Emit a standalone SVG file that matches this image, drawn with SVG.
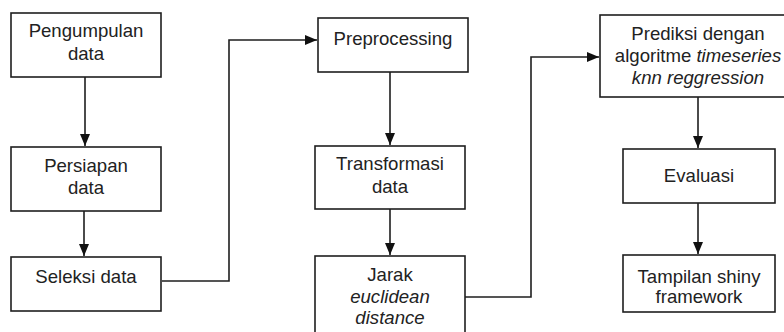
<svg xmlns="http://www.w3.org/2000/svg" width="784" height="332" viewBox="0 0 784 332">
<defs>
<style>
.box{fill:#fff;stroke:#1e1e1e;stroke-width:1.6}
.t{font-family:"Liberation Sans",Arial,sans-serif;font-size:18.6px;fill:#222;text-anchor:middle}
.i{font-style:italic}
.c{fill:none;stroke:#1e1e1e;stroke-width:1.6}
</style>
<marker id="ah" markerUnits="userSpaceOnUse" markerWidth="12" markerHeight="12" refX="12" refY="5" orient="auto" viewBox="0 0 12 10">
<path d="M0,0 L12,5 L0,10 Z" fill="#111"/>
</marker>
</defs>
<rect width="784" height="332" fill="#fff"/>
<g id="connectors">
<line class="c" x1="85" y1="77" x2="85" y2="146" marker-end="url(#ah)"/>
<line class="c" x1="84" y1="211" x2="84" y2="256" marker-end="url(#ah)"/>
<polyline class="c" points="162,281 229,281 229,40 317,40" marker-end="url(#ah)"/>
<line class="c" x1="390" y1="72" x2="390" y2="145" marker-end="url(#ah)"/>
<line class="c" x1="390" y1="209" x2="390" y2="255" marker-end="url(#ah)"/>
<polyline class="c" points="465,297 531,297 531,57 599,57" marker-end="url(#ah)"/>
<line class="c" x1="698" y1="97" x2="698" y2="148" marker-end="url(#ah)"/>
<line class="c" x1="698" y1="203" x2="698" y2="254" marker-end="url(#ah)"/>
</g>
<g id="pengumpulan">
<rect class="box" x="11" y="13" width="150" height="64"/>
<text class="t" x="86" y="37">Pengumpulan</text>
<text class="t" x="86" y="60">data</text>
</g>
<g id="persiapan">
<rect class="box" x="11" y="147" width="150" height="64"/>
<text class="t" x="86" y="172">Persiapan</text>
<text class="t" x="86" y="194">data</text>
</g>
<g id="seleksi">
<rect class="box" x="11" y="257" width="150" height="54"/>
<text class="t" x="86" y="283">Seleksi data</text>
</g>
<g id="preprocessing">
<rect class="box" x="318" y="18" width="150" height="54"/>
<text class="t" x="393" y="45">Preprocessing</text>
</g>
<g id="transformasi">
<rect class="box" x="315" y="146" width="150" height="63"/>
<text class="t" x="390" y="170">Transformasi</text>
<text class="t" x="390" y="193">data</text>
</g>
<g id="jarak">
<rect class="box" x="315" y="256" width="150" height="90"/>
<text class="t" x="390" y="281">Jarak</text>
<text class="t i" x="390" y="303">euclidean</text>
<text class="t i" x="390" y="324">distance</text>
</g>
<g id="prediksi">
<rect class="box" x="600" y="15" width="200" height="82"/>
<text class="t" x="698" y="40">Prediksi dengan</text>
<text class="t" x="698" y="62">algoritme <tspan class="i">timeseries</tspan></text>
<text class="t i" x="698" y="84">knn reggression</text>
</g>
<g id="evaluasi">
<rect class="box" x="623" y="149" width="152" height="54"/>
<text class="t" x="699" y="182">Evaluasi</text>
</g>
<g id="tampilan">
<rect class="box" x="623" y="255" width="152" height="57"/>
<text class="t" x="699" y="283">Tampilan shiny</text>
<text class="t" x="699" y="303">framework</text>
</g>
</svg>
